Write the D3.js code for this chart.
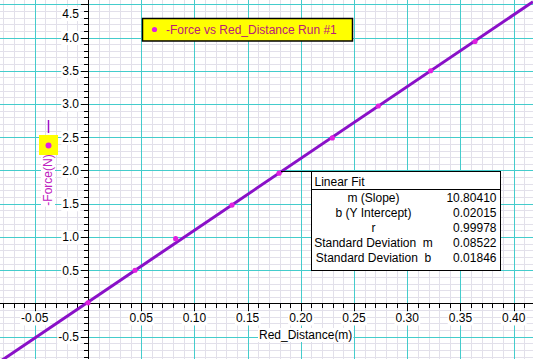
<!DOCTYPE html>
<html>
<head>
<meta charset="utf-8">
<script src="https://cdn.jsdelivr.net/npm/d3@7"></script>
<style>
  body { margin: 0; background: #fff; }
  svg { display: block; font-family: Arial, "Liberation Sans", sans-serif; }
</style>
</head>
<body>
<div id="chart"></div>
<script>
/*
-Force vs Red_Distance with linear fit
*/
const distance = [0.0, 0.0442, 0.0824, 0.1353, 0.1795, 0.2296, 0.2728, 0.322, 0.3637];
const force = [0.01, 0.5, 0.975, 1.48, 1.96, 2.49, 2.97, 3.5, 3.94];

const xTicks = [-0.05, 0.05, 0.1, 0.15, 0.2, 0.25, 0.3, 0.35, 0.4];
const yTicks = [-0.5, 0.5, 1.0, 1.5, 2.0, 2.5, 3.0, 3.5, 4.0, 4.5];

const fitSlope = 10.8041;
const fitIntercept = 0.02015;
const fitLabels = ["m (Slope)", "b (Y Intercept)", "r", "Standard Deviation  m", "Standard Deviation  b"];
const fitValues = ["10.80410", "0.02015", "0.99978", "0.08522", "0.01846"];

const seriesName = "-Force vs Red_Distance Run #1";
const xTitle = "Red_Distance(m)";
const yTitle = "-Force(N)";

const W = 533, H = 359;
const MAJOR = "#44cccc";
const MINOR = "#e2e0ea";
const LINE = "#8a10c8";
const DOT = "#e020e0";

const svg = d3.select("#chart").append("svg").attr("width", W).attr("height", H);

const x = d3.scaleLinear().domain([-0.0827, 0.4182]).range([0, W]);
const y = d3.scaleLinear().domain([4.564, -0.835]).range([0, H]);

const round = (v) => Math.round(v * 1000) / 1000;
const xMinor = d3.range(-8, 42).map((i) => round(i * 0.01));
const yMinor = d3.range(-8, 46).map((i) => round(i * 0.1));
const xMajor = d3.range(-1, 9).map((i) => round(i * 0.05));
const yMajor = d3.range(-1, 10).map((i) => round(i * 0.5));

// Grid: minor first, then the major lines on top
const grid = svg.append("g").attr("shape-rendering", "crispEdges");
grid.selectAll(".vmin").data(xMinor).join("line")
  .attr("x1", (d) => Math.round(x(d)) + 0.5).attr("x2", (d) => Math.round(x(d)) + 0.5)
  .attr("y1", 0).attr("y2", H).attr("stroke", MINOR);
grid.selectAll(".hmin").data(yMinor).join("line")
  .attr("y1", (d) => Math.round(y(d)) + 0.5).attr("y2", (d) => Math.round(y(d)) + 0.5)
  .attr("x1", 0).attr("x2", W).attr("stroke", MINOR);
grid.selectAll(".vmaj").data(xMajor).join("line")
  .attr("x1", (d) => Math.round(x(d)) + 0.5).attr("x2", (d) => Math.round(x(d)) + 0.5)
  .attr("y1", 0).attr("y2", H).attr("stroke", MAJOR);
grid.selectAll(".hmaj").data(yMajor).join("line")
  .attr("y1", (d) => Math.round(y(d)) + 0.5).attr("y2", (d) => Math.round(y(d)) + 0.5)
  .attr("x1", 0).attr("x2", W).attr("stroke", MAJOR);

// Axes through zero
const x0 = Math.round(x(0)) + 0.5;
const y0 = Math.round(y(0)) + 0.5;
const axes = svg.append("g").attr("stroke", "#000").attr("shape-rendering", "crispEdges");
axes.append("line").attr("x1", 0).attr("x2", W).attr("y1", y0).attr("y2", y0);
axes.append("line").attr("x1", x0).attr("x2", x0).attr("y1", 0).attr("y2", H);
axes.selectAll(".xt").data(xMinor).join("line")
  .attr("x1", (d) => Math.round(x(d)) + 0.5).attr("x2", (d) => Math.round(x(d)) + 0.5)
  .attr("y1", y0).attr("y2", (d) => y0 + (xMajor.includes(d) ? 7 : 4));
axes.selectAll(".yt").data(yMinor).join("line")
  .attr("y1", (d) => Math.round(y(d)) + 0.5).attr("y2", (d) => Math.round(y(d)) + 0.5)
  .attr("x1", x0).attr("x2", (d) => x0 - (yMajor.includes(d) ? 8 : 5));

// Text with a white knock-out behind it
function knockout(sel) {
  sel.each(function () {
    const b = this.getBBox();
    d3.select(this.parentNode).insert("rect", () => this)
      .attr("x", b.x - 1).attr("y", b.y).attr("width", b.width + 2).attr("height", b.height)
      .attr("fill", "#fff")
      .attr("transform", d3.select(this).attr("transform"));
  });
}

const labels = svg.append("g").attr("font-size", 12).attr("fill", "#000");
labels.selectAll(".xl").data(xTicks).join("text")
  .attr("x", (d) => x(d)).attr("y", y(0) + 19)
  .attr("text-anchor", "middle")
  .text((d) => d3.format(".2f")(d).replace("−", "-"))
  .call(knockout);
// Labels near the top edge are kept inside the plot
labels.selectAll(".yl").data(yTicks).join("text")
  .attr("x", x(0) - 9).attr("y", (d) => Math.max(y(d) + 4.5, 18))
  .attr("text-anchor", "end")
  .text((d) => d3.format(".1f")(d).replace("−", "-"))
  .call(knockout);

labels.append("text")
  .attr("x", 259).attr("y", 339)
  .text(xTitle)
  .call(knockout);

labels.append("text")
  .attr("transform", `translate(52,${180}) rotate(-90)`)
  .attr("text-anchor", "middle")
  .attr("fill", "#c020c0")
  .text(yTitle)
  .call(knockout);

// Y title marker: line sample + dot sample
svg.append("line").attr("x1", 48.5).attr("x2", 48.5).attr("y1", 120).attr("y2", 133)
  .attr("stroke", "#a010c8").attr("stroke-width", 1.5);
svg.append("rect").attr("x", 39).attr("y", 135).attr("width", 19).attr("height", 20).attr("fill", "#ffff00");
svg.append("circle").attr("cx", 48.5).attr("cy", 145.5).attr("r", 3).attr("fill", DOT);

// Fit line and points
svg.append("defs").append("clipPath").attr("id", "plot-clip")
  .append("rect").attr("width", W).attr("height", H);
const fit = (v) => fitSlope * v + fitIntercept;
const fitLine = d3.line().x((d) => x(d)).y((d) => y(fit(d)));
svg.append("path")
  .attr("clip-path", "url(#plot-clip)")
  .attr("d", fitLine(x.domain()))
  .attr("fill", "none").attr("stroke", LINE).attr("stroke-width", 3);

svg.append("g").selectAll("circle").data(distance).join("circle")
  .attr("cx", (d) => x(d)).attr("cy", (d, i) => y(force[i]))
  .attr("r", 2.6).attr("fill", DOT);

// Legend
const legend = svg.append("g");
legend.append("rect").attr("x", 142.5).attr("y", 18.5).attr("width", 210).attr("height", 22.5)
  .attr("fill", "#ffff00").attr("stroke", "#000").attr("stroke-width", 1.5);
legend.append("circle").attr("cx", 154.5).attr("cy", 29.5).attr("r", 2.6).attr("fill", DOT);
legend.append("text").attr("x", 166).attr("y", 34).attr("font-size", 12)
  .attr("fill", "#b8207a").text(seriesName);

// Linear fit box with a leader to the line
const leadX = 0.1816;
const box = { x: 311.5, y: 171.5, w: 189, h: 98.5, head: 18 };
svg.append("line").attr("x1", x(leadX)).attr("y1", box.y).attr("x2", box.x).attr("y2", box.y)
  .attr("stroke", "#000").attr("shape-rendering", "crispEdges");
const fb = svg.append("g").attr("font-size", 12);
fb.append("rect").attr("x", box.x).attr("y", box.y).attr("width", box.w).attr("height", box.h)
  .attr("fill", "#fff").attr("stroke", "#000").attr("shape-rendering", "crispEdges");
fb.append("line").attr("x1", box.x).attr("x2", box.x + box.w)
  .attr("y1", box.y + box.head).attr("y2", box.y + box.head)
  .attr("stroke", "#000").attr("shape-rendering", "crispEdges");
fb.append("text").attr("x", box.x + 3).attr("y", box.y + 14).text("Linear Fit");
fb.selectAll(".fl").data(fitLabels).join("text")
  .attr("x", box.x + 62).attr("y", (d, i) => box.y + 30 + i * 15)
  .attr("text-anchor", "middle").text((d) => d)
  .attr("xml:space", "preserve").style("white-space", "pre");
fb.selectAll(".fv").data(fitValues).join("text")
  .attr("x", box.x + box.w - 4).attr("y", (d, i) => box.y + 30 + i * 15)
  .attr("text-anchor", "end").text((d) => d);
</script>
</body>
</html>
